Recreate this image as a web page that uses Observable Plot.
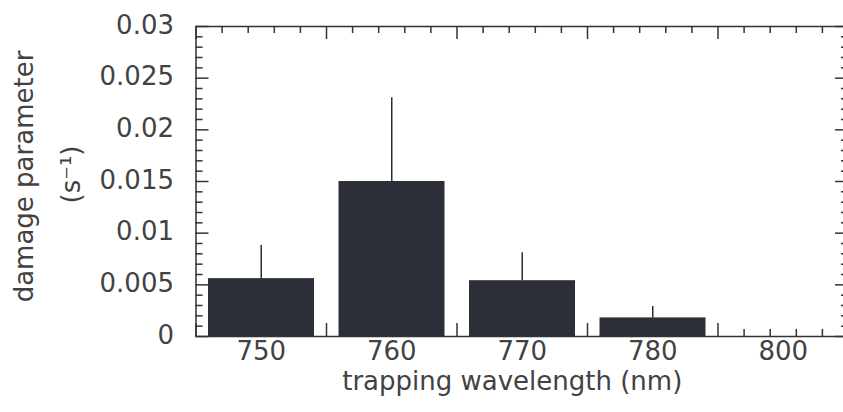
<!DOCTYPE html>
<html>
<head>
<meta charset="utf-8">
<script src="https://cdn.jsdelivr.net/npm/d3@7"></script>
<script src="https://cdn.jsdelivr.net/npm/@observablehq/plot@0.6"></script>
<style>
  html, body { margin: 0; padding: 0; background: #fff; overflow: hidden; }
  #chart svg { overflow: hidden; }
</style>
</head>
<body>
<div id="chart"></div>
<script>
// Data
const categories = ["750", "760", "770", "780", "800"];
const damage = [0.0056, 0.0150, 0.0054, 0.0018, 0];
const upper = [0.0088, 0.0231, 0.0081, 0.0029, null];
const yTickValues = [0, 0.005, 0.01, 0.015, 0.02, 0.025, 0.03];
const yTickLabels = ["0", "0.005", "0.01", "0.015", "0.02", "0.025", "0.03"];

const rows = categories.map((c, i) => ({i, category: c, value: damage[i], upper: upper[i]}));
const errRows = rows.filter(d => d.upper != null);

const W = 843, H = 412;
const mL = 195.5, mR = -5, mT = 26, mB = 76;
const plotW = W - mL - mR, plotH = H - mT - mB;
const ink = "#333";
const textColor = "#424242";
const font = "DejaVu Sans, sans-serif";
const fs = 26;

const xMajor = d3.range(0, 6);
const xMinor = d3.range(0, 26).map(k => k / 5).filter(v => Math.abs(v - Math.round(v)) > 1e-9);
const yMajor = yTickValues;
const yMinor = d3.range(0, 31).map(k => k / 1000).filter(v => Math.abs(v * 200 - Math.round(v * 200)) > 1e-9);

const majorLen = 13, minorLen = 7;

const chart = Plot.plot({
  width: W,
  height: H,
  marginLeft: mL,
  marginRight: mR,
  marginTop: mT,
  marginBottom: mB,
  style: {fontFamily: font, background: "#fff"},
  x: {domain: [0, 5], axis: null},
  y: {domain: [0, 0.03], axis: null},
  marks: [
    // inward ticks: bottom
    Plot.tickX(xMajor, {x: d => d, insetTop: plotH - majorLen, stroke: ink, strokeWidth: 1.5}),
    Plot.tickX(xMinor, {x: d => d, insetTop: plotH - minorLen, stroke: ink, strokeWidth: 1.5}),
    // top
    Plot.tickX(xMajor, {x: d => d, insetBottom: plotH - majorLen, stroke: ink, strokeWidth: 1.5}),
    Plot.tickX(xMinor, {x: d => d, insetBottom: plotH - minorLen, stroke: ink, strokeWidth: 1.5}),
    // left
    Plot.tickY(yMajor, {y: d => d, insetRight: plotW - majorLen, stroke: ink, strokeWidth: 1.5}),
    Plot.tickY(yMinor, {y: d => d, insetRight: plotW - minorLen, stroke: ink, strokeWidth: 1.5}),
    // right
    Plot.tickY(yMajor, {y: d => d, insetLeft: plotW - majorLen, stroke: ink, strokeWidth: 1.5}),
    Plot.tickY(yMinor, {y: d => d, insetLeft: plotW - minorLen, stroke: ink, strokeWidth: 1.5}),
    // bars
    Plot.rectY(rows, {x: "i", interval: 1, y: "value", insetLeft: 12.5, insetRight: 12, fill: "#2c2f37"}),
    // error bars (upper only)
    Plot.ruleX(errRows, {x: d => d.i + 0.5, y1: "value", y2: "upper", stroke: "#2c2f37", strokeWidth: 1.5}),
    Plot.frame({stroke: ink, strokeWidth: 1.5}),
    // y tick labels
    Plot.text(yTickValues, {y: d => d, frameAnchor: "left", text: (d, i) => yTickLabels[i], textAnchor: "end", dx: -22, dy: -1, fontSize: fs, fill: textColor}),
    // x tick labels
    Plot.text(rows, {x: d => d.i + 0.5, frameAnchor: "bottom", text: "category", dy: 23, fontSize: fs, fill: textColor}),
    // axis titles
    Plot.text(["trapping wavelength (nm)"], {frameAnchor: "bottom", text: d => d, textAnchor: "middle", dx: -10, dy: 53, fontSize: fs, fill: textColor}),
    Plot.text(["damage parameter"], {frameAnchor: "left", text: d => d, textAnchor: "middle", rotate: -90, dx: -171, dy: -5, fontSize: fs, fill: textColor}),
    Plot.text(["(s\u207B\u00B9)"], {frameAnchor: "left", text: d => d, textAnchor: "middle", rotate: -90, dx: -124, dy: -7, fontSize: fs, fill: textColor})
  ]
});
document.getElementById("chart").appendChild(chart);
</script>
</body>
</html>
